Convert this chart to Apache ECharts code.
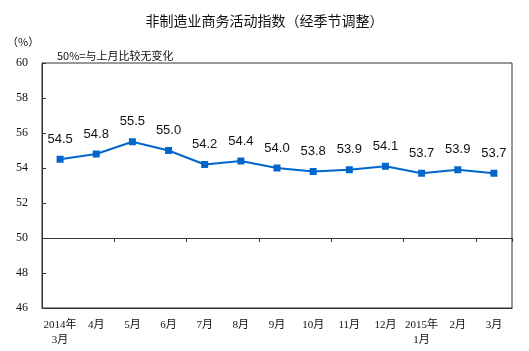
<!DOCTYPE html>
<html>
<head>
<meta charset="utf-8">
<script src="https://cdn.jsdelivr.net/npm/echarts@6/dist/echarts.min.js"></script>
<style>
  html, body { margin: 0; padding: 0; background: #fff; }
  #chart { width: 529px; height: 351px; }
</style>
</head>
<body>
<div id="chart"></div>
<script>
// 月份
const months = ['2014年\n3月', '4月', '5月', '6月', '7月', '8月', '9月', '10月', '11月', '12月', '2015年\n1月', '2月', '3月'];
// 非制造业商务活动指数
const indexValues = [54.5, 54.8, 55.5, 55.0, 54.2, 54.4, 54.0, 53.8, 53.9, 54.1, 53.7, 53.9, 53.7];
const yMin = 46, yMax = 60, yStep = 2;

const cjk = '"Noto Sans CJK SC", sans-serif';
const serif = '"Liberation Serif", "Noto Sans CJK SC", serif';

const chart = echarts.init(document.getElementById('chart'));
chart.setOption({
  animation: false,
  title: [
    {
      text: '非制造业商务活动指数（经季节调整）',
      left: 'center', top: 9,
      textStyle: { fontFamily: cjk, fontSize: 14, fontWeight: 'normal', color: '#111' }
    },
    {
      text: '（%）',
      left: 2, top: 31,
      textStyle: { fontFamily: cjk, fontSize: 11, fontWeight: 'normal', color: '#111' }
    },
    {
      text: '50%=与上月比较无变化',
      left: 52, top: 45,
      textStyle: { fontFamily: cjk, fontSize: 11, fontWeight: 'normal', color: '#111' }
    }
  ],
  grid: {
    left: 42, right: 17, top: 63, bottom: 43,
    show: true, borderColor: '#333', borderWidth: 1
  },
  xAxis: [
    {
      type: 'category',
      data: months,
      position: 'bottom',
      axisLine: { show: true, lineStyle: { color: '#333' } },
      axisTick: { show: false },
      axisLabel: {
        interval: 0, margin: 10, lineHeight: 15,
        fontFamily: serif, fontSize: 11, color: '#111'
      }
    },
    {
      // 50 基准线
      type: 'category',
      data: months,
      position: 'bottom',
      offset: -70,
      axisLine: { show: true, lineStyle: { color: '#333' } },
      axisTick: { show: true, length: 4, lineStyle: { color: '#333' } },
      axisLabel: { show: false }
    }
  ],
  yAxis: {
    type: 'value',
    min: yMin, max: yMax, interval: yStep,
    axisLine: { show: true, lineStyle: { color: '#333' } },
    axisTick: { show: true, inside: true, length: 4, lineStyle: { color: '#333' } },
    splitLine: { show: false },
    axisLabel: { margin: 14, fontFamily: serif, fontSize: 12, color: '#111' }
  },
  series: [
    {
      type: 'line',
      data: indexValues,
      symbol: 'rect',
      symbolSize: 7,
      lineStyle: { color: '#0066CC', width: 2 },
      itemStyle: { color: '#0066CC' },
      label: {
        show: true, position: 'top', distance: 10,
        formatter: p => p.value.toFixed(1),
        fontFamily: '"Liberation Sans", Arial, sans-serif', fontSize: 13, color: '#111'
      }
    }
  ]
});
</script>
</body>
</html>
